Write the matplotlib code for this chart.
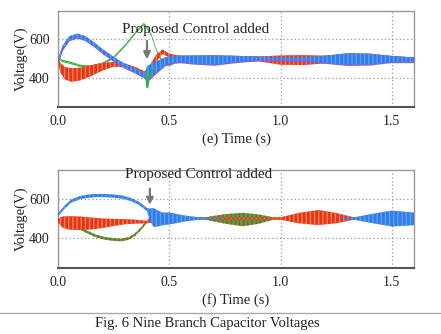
import matplotlib
matplotlib.use("Agg")
import matplotlib.pyplot as plt

plt.rcParams['font.family'] = ['Liberation Serif', 'DejaVu Serif']
plt.rcParams['hatch.linewidth'] = 1.0

# ---------------- data ----------------
X_TICKS = [0.0, 0.5, 1.0, 1.5]
X_TICK_LABELS = ["0.0", "0.5", "1.0", "1.5"]
Y_TICKS = [400, 600]
Y_TICK_LABELS = ["400", "600"]

# panel (e)
E_T_BLUE = [0.0, 0.02, 0.05, 0.085, 0.12, 0.16, 0.20, 0.25, 0.30, 0.35, 0.39, 0.40, 0.42, 0.44, 0.46,
            0.48, 0.51, 0.55, 0.60, 0.70, 0.80, 0.90, 1.00, 1.10, 1.20, 1.30, 1.40, 1.50, 1.60]
E_BLUE_MID = [490, 555, 605, 618, 606, 574, 537, 497, 462, 436, 412, 420, 440, 455, 470,
              485, 495, 498, 495, 492, 498, 500, 498, 497, 496, 497, 497, 498, 495]
E_BLUE_HW = [10, 10, 10, 10, 10, 10, 10, 10, 10, 11, 13, 40, 35, 30, 25,
             20, 17, 17, 20, 24, 16, 9, 7, 9, 18, 30, 28, 15, 10]

E_T_RED = [0.0, 0.01, 0.03, 0.06, 0.10, 0.15, 0.20, 0.25, 0.30, 0.35, 0.39, 0.41, 0.44, 0.47, 0.50,
           0.55, 0.60, 0.70, 0.80, 0.90, 1.00, 1.10, 1.20, 1.30, 1.40, 1.50, 1.60]
E_RED_MID = [490, 455, 425, 415, 420, 438, 458, 470, 465, 445, 422, 440, 500, 535, 515,
             500, 497, 493, 497, 498, 492, 492, 495, 497, 495, 497, 495]
E_RED_HW = [10, 25, 32, 35, 33, 28, 20, 12, 10, 10, 12, 20, 18, 12, 10,
            14, 16, 22, 14, 12, 24, 26, 20, 22, 18, 14, 12]

E_T_GREEN = [0.0, 0.02, 0.05, 0.10, 0.15, 0.20, 0.25, 0.30, 0.35, 0.385, 0.395, 0.42, 0.44, 0.46, 0.48,
             0.50, 0.53, 0.56, 0.60, 0.70, 0.80, 0.90, 1.00, 1.10, 1.20, 1.30, 1.40, 1.50, 1.60]
E_GREEN_MID = [505, 487, 480, 462, 458, 473, 505, 565, 635, 678, 668, 620, 550, 500, 472,
               470, 488, 498, 498, 495, 498, 500, 497, 495, 497, 497, 495, 492, 490]
E_GREEN_HW = [6, 6, 6, 6, 6, 6, 6, 6, 6, 6, 6, 6, 6, 7, 8,
              10, 12, 14, 16, 20, 14, 10, 16, 16, 14, 18, 16, 16, 14]

E_T_SPIKE = [0.395, 0.400, 0.402, 0.41, 0.43]
E_SPIKE = [430, 360, 350, 410, 450]

# panel (f)
F_T_BLUE = [0.0, 0.03, 0.06, 0.10, 0.135, 0.17, 0.21, 0.25, 0.29, 0.33, 0.36, 0.38, 0.40, 0.413, 0.43,
            0.45, 0.47, 0.50, 0.53, 0.57, 0.62, 0.66, 0.75, 0.85, 0.95, 1.05, 1.15, 1.25, 1.33, 1.42,
            1.50, 1.60]
F_BLUE_MID = [518, 558, 588, 606, 613, 616, 616, 613, 608, 595, 579, 563, 545, 520, 505,
              500, 498, 500, 500, 500, 500, 500, 500, 500, 500, 500, 500, 500, 500, 500,
              500, 498]
F_BLUE_HW = [8, 8, 8, 8, 8, 8, 8, 8, 8, 8, 8, 8, 8, 30, 48,
             40, 32, 30, 24, 15, 8, 4, 0, 0, 0, 0, 0, 0, 6, 25,
             40, 32]

F_T_RED = [0.0, 0.02, 0.05, 0.10, 0.15, 0.20, 0.25, 0.30, 0.35, 0.40, 0.42, 0.44, 0.47, 0.50, 0.55,
           0.60, 0.65, 0.75, 0.85, 0.95, 1.00, 1.08, 1.17, 1.25, 1.33, 1.42, 1.50, 1.60]
F_RED_MID = [490, 482, 478, 476, 475, 476, 480, 484, 484, 482, 500, 505, 500, 500, 500,
             500, 500, 500, 500, 500, 500, 502, 505, 502, 500, 500, 500, 500]
F_RED_HW = [10, 28, 34, 34, 30, 24, 18, 13, 10, 6, 22, 32, 22, 16, 10,
            6, 4, 4, 4, 4, 6, 26, 38, 26, 6, 4, 4, 4]

F_T_GREEN = [0.0, 0.03, 0.06, 0.10, 0.135, 0.17, 0.21, 0.25, 0.286, 0.32, 0.346, 0.37, 0.383, 0.40,
             0.42, 0.50, 0.60, 0.66, 0.75, 0.83, 0.90, 0.97, 1.05, 1.20, 1.33, 1.45, 1.60]
F_GREEN_MID = [485, 478, 468, 450, 430, 412, 400, 394, 392, 400, 418, 445, 462, 485,
               495, 500, 500, 500, 498, 495, 497, 500, 500, 500, 500, 500, 500]
F_GREEN_HW = [7, 7, 7, 7, 7, 7, 7, 7, 7, 7, 7, 7, 7, 6,
              6, 6, 4, 6, 24, 34, 24, 6, 3, 3, 3, 3, 3]

ANNOT_TEXT = "Proposed Control added"
E_XLABEL = "(e) Time (s)"
F_XLABEL = "(f) Time (s)"
YLABEL = "Voltage(V)"
CAPTION = "Fig. 6 Nine Branch Capacitor Voltages"

# ---------------- styling ----------------
RED = '#e8302a'
ORANGE = '#f08a30'
GREEN = '#35b040'
BLUE = '#3a78ea'
PURPLE = '#9a55e0'
LBLUE = '#4aa8f0'


def band(ax, t, mid, hw, color, hatch_color=None, extra=0, z=2):
    lo = [m - h - extra for m, h in zip(mid, hw)]
    hi = [m + h + extra for m, h in zip(mid, hw)]
    if hatch_color is None:
        ax.fill_between(t, lo, hi, color=color, lw=0, zorder=z)
    else:
        ax.fill_between(t, lo, hi, facecolor=color, edgecolor=hatch_color,
                        hatch='||||', lw=0, zorder=z)


def style_axes(ax, xlabel):
    ax.set_xlim(0, 1.6)
    ax.set_ylim(250, 745)
    ax.set_xticks(X_TICKS)
    ax.set_xticklabels(X_TICK_LABELS)
    ax.set_yticks(Y_TICKS)
    ax.set_yticklabels(Y_TICK_LABELS)
    ax.tick_params(length=0, pad=6, labelsize=10, colors='#222')
    ax.grid(True, linestyle=(0, (1, 2)), color='#999', lw=0.9)
    ax.set_axisbelow(True)
    for s in ['top', 'right', 'left']:
        ax.spines[s].set_color('#999')
        ax.spines[s].set_linewidth(1.0)
    ax.spines['bottom'].set_color('#555')
    ax.spines['bottom'].set_linewidth(1.5)
    ax.set_xlabel(xlabel, fontsize=10.5, color='#222', labelpad=3)
    ax.set_ylabel(YLABEL, fontsize=10.5, color='#222', labelpad=1)


fig = plt.figure(figsize=(4.41, 3.34), dpi=100)
ax1 = fig.add_axes([0.1315, 0.6796, 0.8073, 0.2874])
ax2 = fig.add_axes([0.1315, 0.1976, 0.8073, 0.2934])

# panel (e)
band(ax1, E_T_GREEN, E_GREEN_MID, E_GREEN_HW, GREEN, hatch_color='#6cc878', z=2)
band(ax1, E_T_RED, E_RED_MID, E_RED_HW, RED, hatch_color=ORANGE, z=3)
band(ax1, E_T_BLUE, E_BLUE_MID, E_BLUE_HW, PURPLE, extra=3, z=4)
band(ax1, E_T_BLUE, E_BLUE_MID, E_BLUE_HW, BLUE, hatch_color=LBLUE, z=4)
ax1.plot(E_T_SPIKE, E_SPIKE, color=GREEN, lw=1.2, zorder=4)
style_axes(ax1, E_XLABEL)
ax1.text(0.62, 651, ANNOT_TEXT, ha='center', va='center', fontsize=11, color='#222', zorder=6)
ax1.annotate('', xy=(0.40, 482), xytext=(0.40, 605),
             arrowprops=dict(arrowstyle='-|>', color='#777', lw=1.6, mutation_scale=10), zorder=6)

# panel (f)
band(ax2, F_T_GREEN, F_GREEN_MID, F_GREEN_HW, GREEN, hatch_color=RED, z=2)
band(ax2, F_T_RED, F_RED_MID, F_RED_HW, RED, hatch_color=ORANGE, z=3)
band(ax2, F_T_BLUE, F_BLUE_MID, F_BLUE_HW, BLUE, hatch_color=LBLUE, z=4)
style_axes(ax2, F_XLABEL)
ax2.text(0.63, 721, ANNOT_TEXT, ha='center', va='center', fontsize=11, color='#222', zorder=6)
ax2.annotate('', xy=(0.413, 555), xytext=(0.413, 665),
             arrowprops=dict(arrowstyle='-|>', color='#777', lw=1.6, mutation_scale=10), zorder=6)

# separator line and caption
fig.add_artist(plt.Line2D([0, 1], [0.0629, 0.0629], color='#aaa', lw=1.0))
fig.text(0.47, 0.03, CAPTION, ha='center', va='center', fontsize=10.5, color='#222')

fig.savefig('out.png', dpi=100)
